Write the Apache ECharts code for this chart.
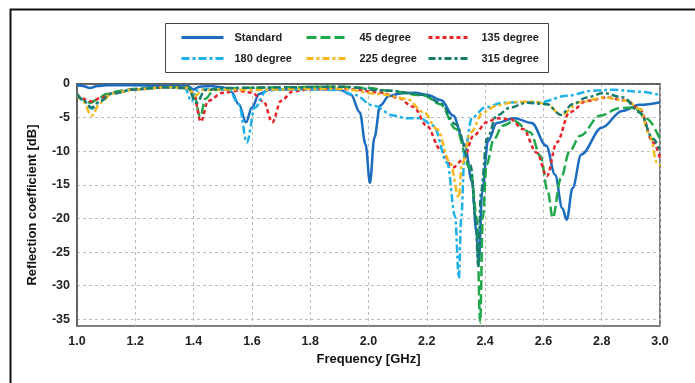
<!DOCTYPE html>
<html>
<head>
<meta charset="utf-8">
<script src="https://cdn.jsdelivr.net/npm/echarts@6/dist/echarts.min.js"></script>
<style>
  html, body { margin: 0; padding: 0; background: #fff; }
  #chart { width: 695px; height: 383px; }
</style>
</head>
<body>
<div id="chart"></div>
<script>
// Reflection coefficient curves: frequency [GHz] / value [dB]
const yTicks = [-35, -30, -25, -20, -15, -10, -5, 0];
const seriesNames = ["Standard", "45 degree", "135 degree", "180 degree", "225 degree", "315 degree"];

const stdFreq = [1.00, 1.02, 1.045, 1.07, 1.10, 1.20, 1.30, 1.38, 1.40, 1.42, 1.46, 1.50, 1.53, 1.555, 1.58, 1.60, 1.625, 1.66, 1.70, 1.80, 1.90, 1.94, 1.97, 1.99, 2.005, 2.02, 2.04, 2.07, 2.11, 2.16, 2.20, 2.25, 2.29, 2.33, 2.355, 2.37, 2.378, 2.39, 2.41, 2.44, 2.50, 2.56, 2.61, 2.64, 2.665, 2.68, 2.70, 2.73, 2.80, 2.87, 2.93, 3.00];
const stdDb = [-0.2, -0.3, -0.6, -0.3, -0.2, -0.2, -0.3, -0.3, -0.8, -0.4, -0.3, -0.5, -1.2, -3.0, -5.7, -3.5, -1.5, -0.8, -0.8, -0.7, -0.8, -1.6, -4.2, -9.0, -14.7, -8.0, -3.2, -1.8, -1.4, -1.3, -1.6, -2.4, -4.7, -9.0, -14.5, -22, -27, -16, -8.5, -5.8, -5.1, -5.8, -9.2, -13.5, -18.5, -20.2, -15.5, -10.5, -6.5, -4.0, -3.1, -2.7];

const deg45Freq = [1.00, 1.02, 1.045, 1.07, 1.10, 1.15, 1.20, 1.30, 1.38, 1.40, 1.423, 1.44, 1.47, 1.55, 1.70, 1.90, 2.00, 2.07, 2.19, 2.246, 2.30, 2.35, 2.372, 2.383, 2.392, 2.405, 2.43, 2.46, 2.50, 2.555, 2.59, 2.615, 2.632, 2.66, 2.69, 2.726, 2.795, 2.86, 2.91, 2.955, 3.00];
const deg45Db = [-1.5, -2.3, -2.8, -2.3, -1.5, -1.0, -0.7, -0.5, -0.5, -1.3, -4.9, -2.2, -0.9, -0.6, -0.5, -0.4, -0.6, -1.0, -1.7, -3.0, -6.7, -12.7, -20, -35.5, -20, -12, -8.2, -6.2, -5.5, -7.2, -10.7, -16, -19.9, -14, -10, -7.7, -4.7, -3.6, -3.5, -5.2, -8.2];

const deg135Freq = [1.00, 1.02, 1.05, 1.08, 1.12, 1.20, 1.30, 1.38, 1.40, 1.425, 1.45, 1.50, 1.55, 1.60, 1.64, 1.67, 1.70, 1.74, 1.80, 1.93, 2.04, 2.10, 2.154, 2.20, 2.246, 2.29, 2.326, 2.36, 2.406, 2.44, 2.486, 2.53, 2.577, 2.612, 2.646, 2.69, 2.75, 2.817, 2.886, 2.93, 2.977, 3.00];
const deg135Db = [-1.5, -2.2, -2.6, -2.1, -1.4, -0.8, -0.5, -0.6, -1.5, -5.6, -2.5, -1.3, -1.0, -1.3, -2.6, -5.7, -2.5, -1.1, -0.8, -0.75, -1.25, -2.0, -3.4, -6.2, -9.7, -12.4, -11.2, -7.7, -5.7, -5.1, -5.2, -6.7, -10.2, -13.7, -8.7, -4.2, -2.5, -2.0, -2.5, -3.7, -8.7, -11];

const deg180Freq = [1.00, 1.02, 1.05, 1.08, 1.12, 1.20, 1.30, 1.37, 1.393, 1.41, 1.45, 1.52, 1.555, 1.583, 1.61, 1.65, 1.70, 1.80, 1.90, 1.95, 2.017, 2.086, 2.13, 2.177, 2.223, 2.27, 2.297, 2.31, 2.318, 2.33, 2.355, 2.40, 2.46, 2.52, 2.59, 2.68, 2.77, 2.84, 2.93, 3.00];
const deg180Db = [-1.5, -2.4, -3.7, -2.6, -1.4, -0.8, -0.5, -0.6, -2.6, -1.0, -0.7, -0.8, -3.0, -8.7, -3.5, -1.0, -0.8, -0.8, -0.9, -1.6, -3.2, -4.7, -5.1, -5.1, -6.2, -11.7, -19.7, -28.9, -20, -10, -5.0, -3.5, -2.8, -2.7, -2.7, -1.75, -1.0, -0.85, -1.15, -1.65];

const deg225Freq = [1.00, 1.02, 1.05, 1.08, 1.12, 1.20, 1.30, 1.38, 1.405, 1.43, 1.50, 1.60, 1.70, 1.80, 1.90, 2.04, 2.13, 2.19, 2.235, 2.28, 2.31, 2.32, 2.35, 2.394, 2.44, 2.497, 2.566, 2.612, 2.66, 2.726, 2.806, 2.886, 2.93, 2.966, 2.989, 3.00];
const deg225Db = [-1.5, -2.6, -4.7, -2.8, -1.4, -0.8, -0.5, -0.6, -1.8, -0.9, -0.8, -0.9, -0.8, -0.7, -0.7, -1.5, -2.2, -4.2, -6.7, -11.7, -16.9, -12, -7.2, -4.2, -3.2, -2.7, -2.6, -3.0, -4.6, -2.7, -2.0, -2.5, -3.7, -7.7, -11.7, -12.2];

const deg315Freq = [1.00, 1.02, 1.05, 1.08, 1.12, 1.20, 1.30, 1.38, 1.41, 1.44, 1.50, 1.70, 1.90, 2.07, 2.19, 2.246, 2.30, 2.35, 2.368, 2.376, 2.386, 2.406, 2.44, 2.486, 2.543, 2.612, 2.66, 2.70, 2.749, 2.806, 2.874, 2.93, 2.977, 3.00];
const deg315Db = [-1.5, -2.4, -3.5, -2.5, -1.4, -0.8, -0.5, -0.6, -2.8, -0.9, -0.6, -0.5, -0.4, -1.0, -1.6, -2.8, -6.0, -12, -20, -27, -16, -8.2, -4.7, -3.5, -2.8, -3.0, -4.6, -3.0, -2.0, -1.35, -2.0, -4.2, -8.2, -10];

const pairs = (xs, ys) => xs.map((x, i) => [x, ys[i]]);

const chart = echarts.init(document.getElementById("chart"), null, { renderer: "canvas" });

const mkSeries = (name, xs, ys, color, type) => ({
  name,
  type: "line",
  data: pairs(xs, ys),
  smooth: 0.35,
  smoothMonotone: "x",
  showSymbol: false,
  symbol: "none",
  lineStyle: { color, width: 2.5, type },
  itemStyle: { color },
  z: 3,
});

// one legend per entry so the 3x2 grid lines up like the original
const legendCols = [180, 305, 427];
const legendRows = [32, 53];
const legends = seriesNames.map((name, i) => ({
  data: [name],
  left: legendCols[i % 3],
  top: legendRows[Math.floor(i / 3)],
  itemWidth: 42,
  itemHeight: 14,
  padding: 0,
  itemStyle: { opacity: 0 },
  lineStyle: { width: 3 },
  textStyle: {
    fontFamily: "Liberation Sans, Arial, sans-serif",
    fontSize: 11,
    fontWeight: "bold",
    color: "#222",
    padding: [0, 0, 0, 6],
  },
}));

const option = {
  animation: false,
  backgroundColor: "#fff",
  textStyle: { fontFamily: "Liberation Sans, Arial, sans-serif" },
  graphic: [
    // outer frame of the figure
    { type: "rect", left: 8, top: 7, shape: { width: 700, height: 400 }, style: { fill: "none", stroke: "#111", lineWidth: 2 }, silent: true },
    // legend box
    { type: "rect", left: 165, top: 23, shape: { width: 383, height: 49 }, style: { fill: "#fff", stroke: "#444", lineWidth: 1 }, silent: true, z: 0 },
  ],
  legend: legends,
  grid: {
    left: 77,
    right: 35,
    top: 84,
    bottom: 57,
    show: true,
    borderColor: "#555",
    borderWidth: 1.5,
    backgroundColor: "transparent",
  },
  xAxis: {
    type: "value",
    min: 1.0,
    max: 3.0,
    interval: 0.2,
    name: "Frequency [GHz]",
    nameLocation: "middle",
    nameGap: 27,
    nameTextStyle: { fontSize: 13, fontWeight: "bold", color: "#111" },
    axisLine: { show: true, lineStyle: { color: "#555", width: 1.5 } },
    axisTick: { show: false },
    axisLabel: {
      margin: 9,
      fontSize: 12.5,
      fontWeight: "bold",
      color: "#222",
      formatter: (v) => v.toFixed(1),
    },
    splitLine: { show: true, lineStyle: { color: "#bdbdbd", type: [3, 3], width: 1 } },
  },
  yAxis: {
    type: "value",
    min: -36,
    max: 0,
    name: "Reflection coefficient [dB]",
    nameLocation: "middle",
    nameGap: 38,
    nameTextStyle: { fontSize: 13, fontWeight: "bold", color: "#111" },
    axisLine: { show: true, lineStyle: { color: "#555", width: 1.5 } },
    axisTick: { show: false, customValues: yTicks },
    axisLabel: {
      margin: 7,
      fontSize: 12.5,
      fontWeight: "bold",
      color: "#222",
      customValues: yTicks,
    },
    splitLine: { show: true, lineStyle: { color: "#bdbdbd", type: [3, 3], width: 1 } },
  },
  series: [
    mkSeries(seriesNames[0], stdFreq, stdDb, "#1c6cc0", "solid"),
    mkSeries(seriesNames[1], deg45Freq, deg45Db, "#20a84a", [10, 4]),
    mkSeries(seriesNames[2], deg135Freq, deg135Db, "#e8242a", [4, 3]),
    mkSeries(seriesNames[3], deg180Freq, deg180Db, "#1fb2ea", [8, 3, 3, 3]),
    mkSeries(seriesNames[4], deg225Freq, deg225Db, "#f6b81c", [7, 3, 3, 3]),
    mkSeries(seriesNames[5], deg315Freq, deg315Db, "#177c6c", [7, 3, 3, 3]),
  ],
};

chart.setOption(option);
</script>
</body>
</html>
